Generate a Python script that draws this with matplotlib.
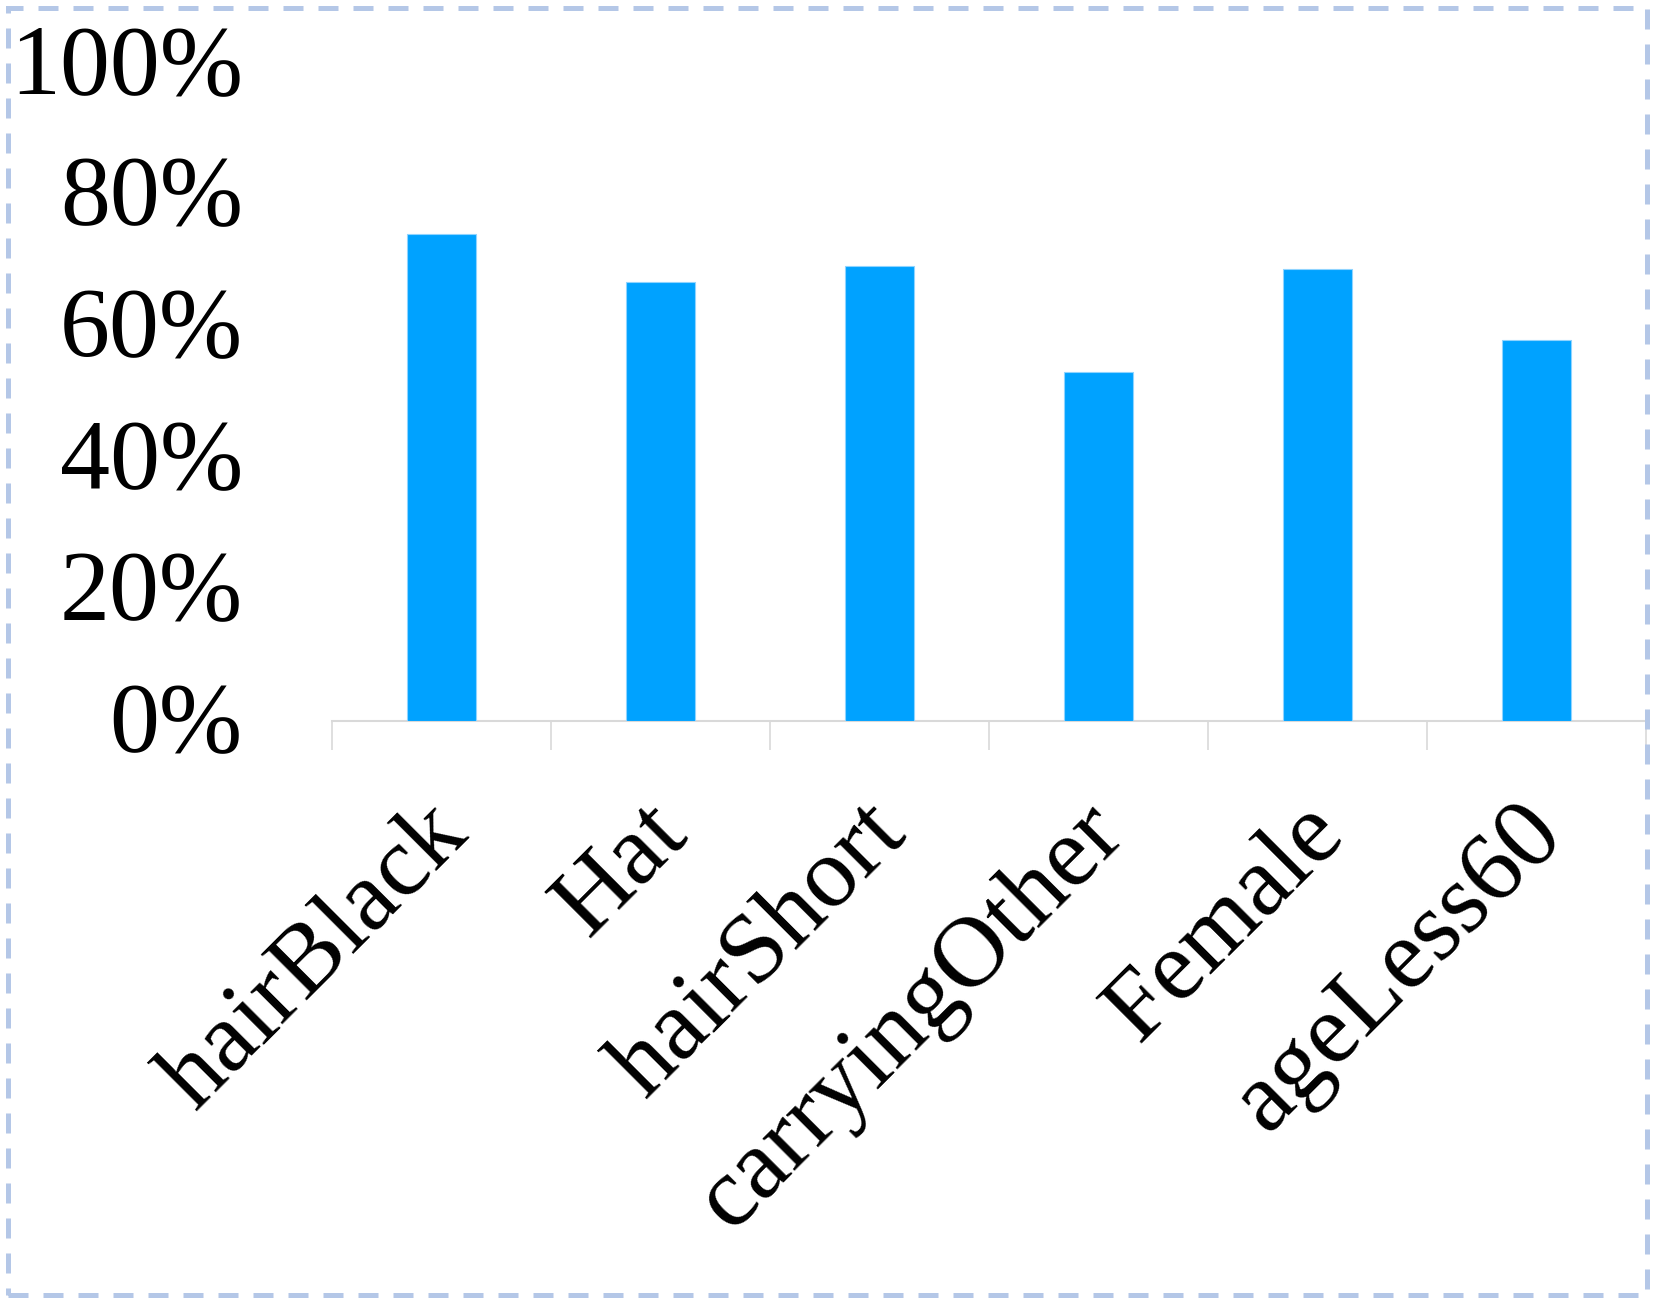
import matplotlib
matplotlib.use("Agg")
import matplotlib.pyplot as plt
from matplotlib.patches import Rectangle
from matplotlib.ticker import FixedLocator, PercentFormatter
from matplotlib.transforms import ScaledTranslation
import numpy as np

categories = ["hairBlack", "Hat", "hairShort", "carryingOther", "Female", "ageLess60"]
values = [73.9, 66.6, 69.1, 53.0, 68.7, 57.8]
yticks = [0, 20, 40, 60, 80, 100]

plt.rcParams['font.family'] = ['Liberation Serif', 'DejaVu Serif']

fig = plt.figure(figsize=(16.6, 13.12), dpi=100)
W, H = 1660, 1312
ax = fig.add_axes([331.7 / W, 1 - 720.7 / H, (1646 - 331.7) / W, (720.7 - 62.5) / H])

x = np.arange(len(categories))
ax.bar(x, values, width=0.315, color='#00a2ff', edgecolor='#8fd4ff', linewidth=0.8, zorder=3)

ax.set_xlim(-0.5, len(categories) - 0.5)
ax.set_ylim(0, 100)
ax.set_yticks(yticks)
ax.yaxis.set_major_formatter(PercentFormatter(decimals=0))
ax.tick_params(axis='y', length=0, pad=64, labelsize=72)

ax.set_xticks(x)
ax.set_xticklabels(categories, rotation=45, ha='right', va='top', rotation_mode='anchor', fontsize=72)
ax.xaxis.set_minor_locator(FixedLocator(np.arange(len(categories) + 1) - 0.5))
ax.tick_params(axis='x', which='major', length=0, pad=48)
ax.tick_params(axis='x', which='minor', length=21, width=1.2, color='#d9d9d9', direction='out')

shift_x = ScaledTranslation(-20 / 100, 0, fig.dpi_scale_trans)
for lab in ax.get_xticklabels():
    lab.set_transform(lab.get_transform() + shift_x)
shift_y = ScaledTranslation(0, 4 / 100, fig.dpi_scale_trans)
for lab in ax.get_yticklabels():
    lab.set_transform(lab.get_transform() + shift_y)

for s in ['top', 'right', 'left']:
    ax.spines[s].set_visible(False)
ax.spines['bottom'].set_color('#d9d9d9')
ax.spines['bottom'].set_linewidth(1.5)

border = Rectangle((8 / W, 1 - 1295 / H), (1647 - 8) / W, (1295 - 8) / H,
                   transform=fig.transFigure, fill=False, edgecolor='#b4c7e7',
                   linewidth=3.6, linestyle=(0, (4, 3)), capstyle='butt', zorder=10)
fig.patches.append(border)

fig.savefig('out.png', dpi=100)
